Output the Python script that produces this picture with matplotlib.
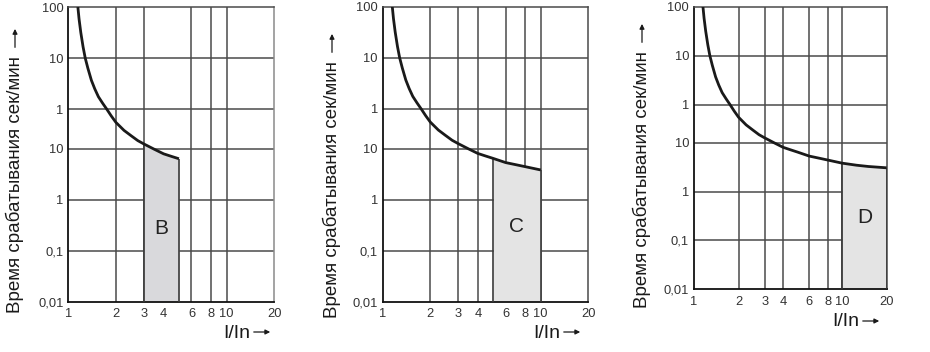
import numpy as np
import matplotlib.pyplot as plt
from matplotlib.patches import FancyArrowPatch

plt.rcParams['font.family'] = ['Liberation Sans', 'DejaVu Sans']

# tripping curve, current multiple vs time in seconds
i_curve = [1.15, 1.17, 1.2, 1.24, 1.28, 1.33, 1.4, 1.47, 1.55, 1.65, 1.75,
           1.87, 2, 2.25, 2.5, 2.75, 3, 3.5, 4, 4.5, 5, 6, 7, 8, 10, 12.5, 15, 20]
t_curve = [6000, 3500, 1900, 1000, 600, 380, 220, 150, 105, 78, 60,
           44, 33, 23, 18, 14.5, 12.5, 9.8, 8, 7.1, 6.4, 5.3, 4.8, 4.4, 3.8, 3.45, 3.25, 3.05]

y_ticks = [0.01, 0.1, 1, 10, 60, 600, 6000]
y_labels = ['0,01', '0,1', '1', '10', '1', '10', '100']
x_ticks = [1, 2, 3, 4, 6, 8, 10, 20]
x_labels = ['1', '2', '3', '4', '6', '8', '10', '20']

names = ['B', 'C', 'D']
zones = [(3, 5), (5, 10), (10, 20)]
curve_end = [5, 10, 20]
grid_x = [[2, 3, 6, 8, 10], [2, 3, 4, 6, 8, 10], [2, 3, 4, 6, 8, 10]]
fills = ['#d9d9dc', '#e4e4e4', '#e4e4e4']
label_y = [0.28, 0.3, 0.3]

boxes = [[0.0734, 0.142, 0.2215, 0.838],
         [0.4115, 0.143, 0.2211, 0.838],
         [0.7462, 0.178, 0.2072, 0.803]]
ylab_x = [15, 332, 642]
ylab_bottom = [313, 318, 308]
xlab_x = [223, 533, 832]
xlab_y = [333, 333, 322]

fig = plt.figure(figsize=(9.3, 3.52), dpi=100)
i_arr = np.array(i_curve)
t_arr = np.array(t_curve)

for k in range(3):
    ax = fig.add_axes(boxes[k])
    ax.set_xscale('log')
    ax.set_yscale('log')
    ax.set_xlim(1, 20)
    ax.set_ylim(0.01, 6000)

    for gx in grid_x[k]:
        ax.axvline(gx, color='#4a4a4a', lw=1.1, zorder=1)
    for gy in y_ticks[1:-1]:
        ax.axhline(gy, color='#4a4a4a', lw=1.1, zorder=1)

    lo, hi = zones[k]
    m = (i_arr >= lo) & (i_arr <= hi)
    ax.fill_between(i_arr[m], 0.01, t_arr[m], color=fills[k], zorder=2, lw=0)
    ax.vlines([lo, hi], 0.01, [t_arr[i_arr == lo][0], t_arr[i_arr == hi][0]],
              color='#3a3a3a', lw=1.2, zorder=3)
    ax.text(np.sqrt(lo * hi), label_y[k], names[k], fontsize=15,
            ha='center', va='center', color='#222222', zorder=5)

    c = i_arr <= curve_end[k]
    ax.plot(i_arr[c], t_arr[c], color='#1a1a1a', lw=2, zorder=4,
            solid_capstyle='butt', solid_joinstyle='round')

    ax.set_xticks(x_ticks)
    ax.set_xticklabels(x_labels)
    ax.set_xticks([], minor=True)
    ax.set_yticks(y_ticks)
    ax.set_yticklabels(y_labels)
    ax.set_yticks([], minor=True)
    ax.tick_params(length=0, labelsize=9.3, labelcolor='#333333')
    ax.tick_params(axis='x', pad=4.5)
    ax.tick_params(axis='y', pad=3.5)
    for s in ['left', 'bottom']:
        ax.spines[s].set_color('#111111')
        ax.spines[s].set_linewidth(1.3)
    ax.spines['top'].set_color('#4a4a4a')
    ax.spines['right'].set_color('#4a4a4a' if k else '#8a8a8a')
    ax.spines['top'].set_linewidth(1.1)
    ax.spines['right'].set_linewidth(1.1)

    # rotated axis title with arrow
    yt = fig.text(ylab_x[k] / 930, 1 - ylab_bottom[k] / 352,
                  'Время срабатывания сек/мин', rotation=90,
                  ha='center', va='bottom', fontsize=13.5, color='#1a1a1a')
    fig.canvas.draw()
    bb = yt.get_window_extent()
    top = bb.y1 / 352
    fig.patches.append(FancyArrowPatch(
        (ylab_x[k] / 930, top + 6 / 352), (ylab_x[k] / 930, top + 30 / 352),
        transform=fig.transFigure, arrowstyle='-|>', mutation_scale=7,
        lw=0.9, color='#1a1a1a'))

    xt = fig.text(xlab_x[k] / 930, 1 - xlab_y[k] / 352, 'I/In',
                  ha='left', va='center', fontsize=14, color='#1a1a1a')
    fig.canvas.draw()
    bx = xt.get_window_extent()
    fig.patches.append(FancyArrowPatch(
        (bx.x1 / 930 + 1 / 930, 1 - (xlab_y[k] - 1) / 352),
        (bx.x1 / 930 + 23 / 930, 1 - (xlab_y[k] - 1) / 352),
        transform=fig.transFigure, arrowstyle='-|>', mutation_scale=7,
        lw=0.9, color='#1a1a1a'))

fig.savefig('out.png', dpi=100)
